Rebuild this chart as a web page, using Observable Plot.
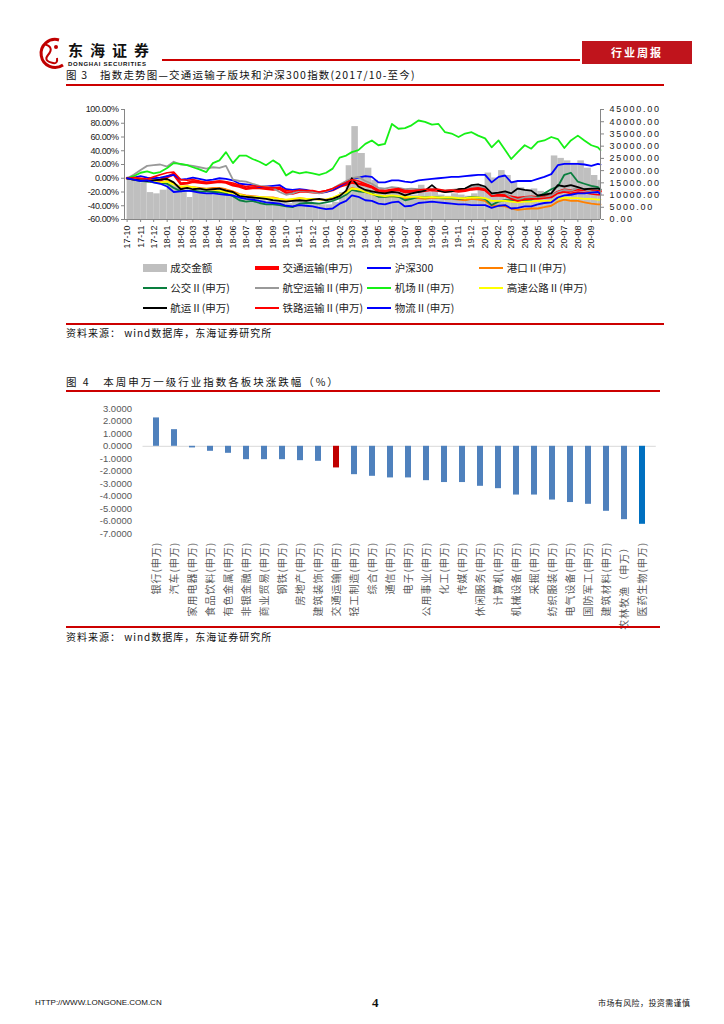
<!DOCTYPE html>
<html><head><meta charset="utf-8">
<script src="https://cdn.jsdelivr.net/npm/d3@7"></script>
<script src="https://cdn.jsdelivr.net/npm/@observablehq/plot@0.6"></script>
<style>
body{margin:0;background:#fff;}
#page{position:relative;width:724px;height:1024px;overflow:hidden;background:#fff;font-family:"Noto Sans CJK SC","Noto Sans",sans-serif;color:#222;}
.abs{position:absolute;white-space:nowrap;line-height:1;}
.redline{position:absolute;background:#cc0000;}
.chart{position:absolute;left:0;}
</style></head>
<body><div id="page">
  <svg class="abs" style="left:34px;top:35px" width="34" height="38" viewBox="0 0 34 38">
    <path d="M25 5 A14 14 0 1 0 29 30" fill="none" stroke="#c00000" stroke-width="3"/>
    <path d="M10 9 Q21 12 14 20 Q9 26 19 28 Q24 29 23 23" fill="none" stroke="#c00000" stroke-width="2"/>
    <circle cx="22" cy="12" r="2" fill="#c00000"/>
  </svg>
  <div class="abs" style="left:68px;top:42px;font-size:15px;font-weight:700;letter-spacing:7px;color:#111">东海证券</div>
  <div class="abs" style="left:68px;top:60.5px;font-family:'Liberation Sans',Arial,sans-serif;font-size:6px;font-weight:700;letter-spacing:0.7px;color:#111">DONGHAI SECURITIES</div>
  <div class="redline" style="left:162px;top:59px;width:418px;height:1.5px"></div>
  <div class="abs" style="left:582px;top:41px;width:110px;height:23px;background:#c0141c"></div>
  <div class="abs" style="left:582px;top:47px;width:110px;text-align:center;font-size:11px;font-weight:700;letter-spacing:2px;color:#fff">行业周报</div>

  <div class="abs" style="left:66px;top:69.5px;font-size:10.5px;letter-spacing:1.2px;color:#111">图 3　指数走势图—交通运输子版块和沪深300指数(2017/10-至今)</div>
  <div class="redline" style="left:66px;top:84px;width:598px;height:2px"></div>
  <div id="c3" class="chart" style="top:100px"></div>
  <div id="legend"></div>
  <div class="redline" style="left:66px;top:322.5px;width:598px;height:2px"></div>
  <div class="abs" style="left:66px;top:328px;font-size:10px;letter-spacing:1px;color:#111">资料来源： wind数据库，东海证券研究所</div>

  <div class="abs" style="left:66px;top:377px;font-size:10.5px;letter-spacing:2px;color:#111">图 4　本周申万一级行业指数各板块涨跌幅（%）</div>
  <div class="redline" style="left:66px;top:390px;width:594px;height:2px"></div>
  <div id="c4" class="chart" style="top:395px"></div>
  <div class="redline" style="left:66px;top:626px;width:594px;height:2px"></div>
  <div class="abs" style="left:66px;top:632px;font-size:10px;letter-spacing:1px;color:#111">资料来源： wind数据库，东海证券研究所</div>

  <div class="abs" style="left:35px;top:999px;font-family:'Liberation Sans',Arial,sans-serif;font-size:8px;color:#111">HTTP://WWW.LONGONE.COM.CN</div>
  <div class="abs" style="left:372px;top:996px;font-family:'Liberation Serif',serif;font-size:13px;font-weight:700;color:#111">4</div>
  <div class="abs" style="left:598px;top:999px;font-size:8px;letter-spacing:0.4px;color:#111">市场有风险，投资需谨慎</div>
</div>
<script>
// ---------- Figure 3 data (semi-monthly readings) ----------
const dates = ["2017-10-01","2017-10-16","2017-11-01","2017-11-16","2017-12-01","2017-12-16",
"2018-01-01","2018-01-16","2018-02-01","2018-02-16","2018-03-01","2018-03-16","2018-04-01","2018-04-16",
"2018-05-01","2018-05-16","2018-06-01","2018-06-16","2018-07-01","2018-07-16","2018-08-01","2018-08-16",
"2018-09-01","2018-09-16","2018-10-01","2018-10-16","2018-11-01","2018-11-16","2018-12-01","2018-12-16",
"2019-01-01","2019-01-16","2019-02-01","2019-02-16","2019-03-01","2019-03-16","2019-04-01","2019-04-16",
"2019-05-01","2019-05-16","2019-06-01","2019-06-16","2019-07-01","2019-07-16","2019-08-01","2019-08-16",
"2019-09-01","2019-09-16","2019-10-01","2019-10-16","2019-11-01","2019-11-16","2019-12-01","2019-12-16",
"2020-01-01","2020-01-16","2020-02-01","2020-02-16","2020-03-01","2020-03-16","2020-04-01","2020-04-16",
"2020-05-01","2020-05-16","2020-06-01","2020-06-16","2020-07-01","2020-07-16","2020-08-01","2020-08-16",
"2020-09-01","2020-09-16","2020-09-22"];
const monthTicks = ["17-10","17-11","17-12","18-01","18-02","18-03","18-04","18-05","18-06","18-07","18-08","18-09",
"18-10","18-11","18-12","19-01","19-02","19-03","19-04","19-05","19-06","19-07","19-08","19-09",
"19-10","19-11","19-12","20-01","20-02","20-03","20-04","20-05","20-06","20-07","20-08","20-09"];

const transport = [0,-1,-2,-3,-4,-3,2,6,-8,-7,-5,-6,-7,-6,-5,-6,-10,-12,-15,-14,-14,-15,-16,-15,-21,-22,-19,-19,-20,-21,-19,-17,-12,-9,-6,-8,-10,-13,-19,-20,-18,-17,-20,-19,-19,-18,-17,-18,-19,-18,-19,-18,-16,-15,-17,-25,-24,-25,-27,-29,-28,-27,-28,-27,-26,-20,-17,-18,-16,-17,-18,-19,-19];
const hs300 = [0,1,3,1,0,1,3,5,-2,-1,1,-1,-3,-2,0,-1,-3,-8,-9,-10,-13,-12,-11,-10,-16,-17,-16,-17,-19,-21,-20,-17,-12,-6,-1,1,3,2,-6,-6,-3,-3,-5,-6,-3,-2,-1,0,1,2,2,3,4,5,5,-6,2,4,-6,-4,-4,-4,-1,2,6,19,21,21,21,20,18,21,20];
const port = [0,-1,-3,-4,-5,-6,-4,-8,-13,-12,-13,-14,-15,-14,-14,-16,-19,-23,-25,-26,-27,-28,-28,-30,-32,-31,-29,-30,-30,-31,-31,-29,-24,-20,-14,-17,-20,-23,-26,-27,-26,-27,-29,-28,-29,-30,-28,-29,-30,-30,-31,-32,-30,-31,-33,-40,-40,-41,-44,-46,-45,-44,-44,-42,-40,-34,-31,-33,-33,-35,-37,-38,-38];
const bus = [0,-2,-4,-5,-6,-7,-8,-14,-19,-18,-18,-19,-19,-20,-20,-22,-26,-32,-34,-33,-36,-38,-38,-39,-41,-42,-37,-36,-36,-37,-35,-33,-29,-24,-17,-19,-20,-22,-27,-27,-26,-27,-32,-30,-27,-28,-27,-28,-29,-29,-30,-29,-27,-28,-30,-39,-34,-32,-32,-33,-32,-31,-27,-22,-16,-12,5,8,-5,-8,-11,-13,-17];
const airline = [0,5,12,18,19,20,17,24,20,19,18,16,14,16,15,18,-2,-4,-5,-8,-11,-12,-14,-20,-24,-22,-18,-19,-20,-22,-19,-15,-9,-4,0,2,-4,-8,-14,-15,-13,-14,-16,-15,-16,-17,-15,-17,-18,-17,-16,-15,-13,-12,-14,-24,-21,-22,-28,-31,-28,-27,-29,-28,-25,-20,-17,-18,-14,-16,-19,-20,-21];
const airport = [0,3,8,10,7,9,15,22,21,19,16,13,9,22,26,38,22,33,33,28,24,19,26,20,4,10,7,9,7,5,8,14,30,33,38,41,50,55,48,50,79,72,73,77,84,82,78,79,67,65,60,65,67,62,58,45,55,41,28,38,48,43,53,55,60,57,44,55,62,55,48,45,41];
const highway = [0,-2,-3,-4,-5,-6,-5,-9,-12,-12,-13,-15,-16,-17,-18,-20,-22,-24,-26,-27,-27,-28,-29,-30,-31,-30,-29,-30,-30,-31,-31,-28,-24,-21,-15,-16,-20,-23,-25,-26,-25,-26,-27,-27,-27,-28,-27,-28,-28,-28,-29,-29,-28,-28,-29,-33,-33,-33,-34,-35,-34,-34,-33,-33,-33,-30,-28,-29,-29,-30,-30,-31,-31];
const shipping = [0,-2,-3,-4,-3,-2,-1,-6,-16,-14,-16,-15,-17,-16,-15,-18,-20,-26,-27,-28,-29,-30,-32,-33,-34,-33,-32,-33,-31,-30,-32,-30,-26,-18,0,-12,-17,-19,-21,-22,-20,-21,-25,-22,-20,-18,-10,-18,-20,-19,-16,-15,-10,-9,-12,-22,-21,-19,-22,-15,-17,-18,-25,-24,-22,-10,-12,-10,-13,-16,-15,-15,-16];
const railway = [0,1,0,-1,2,5,8,9,-2,-3,-2,-4,-6,-5,-4,-5,-7,-10,-12,-11,-12,-13,-14,-13,-18,-19,-17,-18,-18,-20,-18,-15,-10,-6,-2,-4,-8,-12,-17,-18,-16,-15,-18,-18,-17,-16,-16,-16,-18,-17,-18,-17,-15,-14,-16,-26,-25,-26,-30,-33,-31,-30,-30,-29,-28,-22,-20,-22,-20,-21,-23,-24,-24];
const logistics = [0,-2,-4,-3,-6,-8,-12,-20,-19,-18,-19,-21,-22,-22,-23,-24,-25,-28,-30,-31,-33,-35,-36,-37,-40,-41,-39,-40,-41,-43,-45,-44,-37,-33,-25,-27,-32,-33,-37,-38,-35,-34,-41,-40,-36,-35,-34,-35,-36,-37,-38,-38,-39,-39,-39,-43,-40,-39,-44,-43,-41,-41,-38,-36,-35,-28,-25,-24,-22,-22,-21,-20,-23];
// turnover (成交金额) for each period between consecutive dates, right axis units
const turnover = [16000,17000,15000,11000,10500,12000,
15500,14000,11000,9000,11500,11000,10500,10000,11000,10000,9500,9000,
8500,9000,8000,7500,7000,7500,6500,7500,7500,8000,6500,6000,
6000,7000,11000,22000,38000,27000,21000,16000,12500,11500,10500,11000,
10500,10000,14000,11000,11500,10000,9500,10500,10000,9500,10500,12500,
19000,17000,20000,18000,15000,13000,12000,12500,11500,11000,26000,25000,
24000,23000,24000,21000,18000,16000];
const leftTicks = [100,80,60,40,20,0,-20,-40,-60];
const rightTicks = [45000,40000,35000,30000,25000,20000,15000,10000,5000,0];

const seriesList = [
  {name:"交通运输(申万)", values:transport, color:"#ff0000", width:2.8},
  {name:"沪深300", values:hs300, color:"#0000ff", width:1.8},
  {name:"港口Ⅱ(申万)", values:port, color:"#ff8000", width:1.8},
  {name:"公交Ⅱ(申万)", values:bus, color:"#0a7f3f", width:1.8},
  {name:"航空运输Ⅱ(申万)", values:airline, color:"#999999", width:1.8},
  {name:"机场Ⅱ(申万)", values:airport, color:"#16f016", width:1.8},
  {name:"高速公路Ⅱ(申万)", values:highway, color:"#ffff00", width:1.8},
  {name:"航运Ⅱ(申万)", values:shipping, color:"#000000", width:1.8},
  {name:"铁路运输Ⅱ(申万)", values:railway, color:"#ff0000", width:1.6},
  {name:"物流Ⅱ(申万)", values:logistics, color:"#0000ff", width:1.8}
];
const volumeName = "成交金额";
const volumeColor = "#bfbfbf";

// ---------- Figure 4 data ----------
const industries = ["银行(申万)","汽车(申万)","家用电器(申万)","食品饮料(申万)","有色金属(申万)","非银金融(申万)","商业贸易(申万)","钢铁(申万)","房地产(申万)","建筑装饰(申万)","交通运输(申万)","轻工制造(申万)","综合(申万)","通信(申万)","电子(申万)","公用事业(申万)","化工(申万)","传媒(申万)","休闲服务(申万)","计算机(申万)","机械设备(申万)","采掘(申万)","纺织服装(申万)","电气设备(申万)","国防军工(申万)","建筑材料(申万)","农林牧渔（申万）","医药生物(申万)"];
const changes = [2.27,1.33,-0.13,-0.40,-0.56,-1.07,-1.07,-1.07,-1.15,-1.20,-1.73,-2.27,-2.40,-2.53,-2.53,-2.75,-2.90,-2.90,-3.20,-3.39,-3.90,-3.90,-4.30,-4.50,-4.64,-5.20,-5.87,-6.24];
const yTicks4 = [3,2,1,0,-1,-2,-3,-4,-5,-6,-7];
const barColor = "#4f81bd";
const highlightColors = {"交通运输(申万)":"#c00000","医药生物(申万)":"#0070c0"};

// ---------- Figure 3 ----------
const P = d3.utcParse("%Y-%m-%d");
const X = dates.map(P);
const xDomain = [P("2017-09-25"), P("2020-09-22")];
const yDomain = [-60, 100];
const volDomain = [0, 45000];
const v2y = v => yDomain[0] + (v - volDomain[0]) / (volDomain[1] - volDomain[0]) * (yDomain[1] - yDomain[0]);
const y2v = y => (y - yDomain[0]) / (yDomain[1] - yDomain[0]) * (volDomain[1] - volDomain[0]) + volDomain[0];
const volRows = turnover.map((v, i) => ({a: X[i], b: X[i + 1], v}));
const lineMarks = seriesList.map(s => Plot.line(s.values.map((v, i) => ({d: X[i], v})),
  {x: "d", y: "v", stroke: s.color, strokeWidth: s.width, strokeLinejoin: "round"}));
const axisGray = "#868686";
const chart3 = Plot.plot({
  width: 724, height: 160, marginLeft: 124, marginRight: 124, marginTop: 9, marginBottom: 41,
  x: {type: "utc", domain: xDomain, label: null},
  y: {domain: yDomain, label: null},
  style: {fontFamily: "'Liberation Sans',Arial,sans-serif", fontSize: "9px", color: "#1a1a1a", background: "transparent", overflow: "visible"},
  marks: [
    Plot.rect(volRows, {x1: "a", x2: "b", y1: () => yDomain[0], y2: d => v2y(d.v), fill: volumeColor}),
    ...lineMarks,
    Plot.ruleY([yDomain[0]], {stroke: axisGray}),
    Plot.ruleX([xDomain[0]], {stroke: axisGray}),
    Plot.ruleX([xDomain[1]], {stroke: axisGray}),
    Plot.axisY({anchor: "left", label: null, ticks: leftTicks, tickFormat: d => d.toFixed(2) + "%", tickSize: 3, tickPadding: 3, fontSize: 9, stroke: axisGray}),
    Plot.axisY({anchor: "right", label: null, ticks: rightTicks.map(v2y), tickFormat: d => Math.round(y2v(d)).toFixed(2), tickSize: 3, tickPadding: 6, fontSize: 9, stroke: axisGray}),
    Plot.axisX({label: null, ticks: monthTicks.map(d3.utcParse("%y-%m")), tickFormat: d3.utcFormat("%y-%m"), tickRotate: -90, tickSize: 3, tickPadding: 3, fontSize: 9, stroke: axisGray})
  ]
});
chart3.querySelectorAll('g[aria-label="y-axis tick label"]').forEach(g => {
  const anchor = g.getAttribute("text-anchor");
  g.style.letterSpacing = anchor === "start" ? "1.7px" : "-0.4px";
});
document.getElementById("c3").appendChild(chart3);

// legend
const legendItems = [{name: volumeName, color: volumeColor, kind: "rect"}].concat(
  seriesList.map(s => ({name: s.name, color: s.color, kind: "line", width: s.width > 2.5 ? 4 : 2})));
const legend = document.getElementById("legend");
const colX = [142.7, 255, 367.3, 479.3], rowY = [268.3, 288.3, 308.3];
legendItems.forEach((it, i) => {
  const cx = colX[i % 4], cy = rowY[Math.floor(i / 4)];
  const sw = document.createElement("div");
  sw.className = "abs";
  const h = it.kind === "rect" ? 8 : it.width;
  Object.assign(sw.style, {left: cx + "px", top: (cy - h / 2) + "px", width: "24px", height: h + "px", background: it.color});
  legend.appendChild(sw);
  const tx = document.createElement("div");
  tx.className = "abs";
  Object.assign(tx.style, {left: (cx + 27.5) + "px", top: (cy - 5.5) + "px", fontSize: "10.5px", color: "#222"});
  tx.textContent = it.name;
  legend.appendChild(tx);
});

// ---------- Figure 4 ----------
const rows4 = industries.map((n, i) => ({n, v: changes[i]}));
const chart4 = Plot.plot({
  width: 724, height: 235, marginLeft: 142.5, marginRight: 68.2, marginTop: 13.3, marginBottom: 96.7,
  x: {domain: industries, paddingInner: 0.64, paddingOuter: 0.32, label: null},
  y: {domain: [-7, 3], label: null},
  color: {type: "identity"},
  style: {fontFamily: "'Liberation Sans',Arial,sans-serif", fontSize: "9.5px", color: "#595959", background: "transparent", overflow: "visible"},
  marks: [
    Plot.ruleY([0], {stroke: "#d9d9d9"}),
    Plot.barY(rows4, {x: "n", y: "v", fill: d => highlightColors[d.n] || barColor}),
    Plot.axisY({label: null, ticks: yTicks4, tickFormat: d => d.toFixed(4), tickSize: 0, tickPadding: 11, fontSize: 9.5}),
    Plot.axisX({label: null, tickRotate: -90, tickSize: 0, tickPadding: 8, fontSize: 10, fontFamily: "'Noto Sans CJK SC',sans-serif"})
  ]
});
chart4.querySelectorAll('g[aria-label="x-axis tick label"]').forEach(g => { g.style.letterSpacing = "1px"; });
document.getElementById("c4").appendChild(chart4);
</script>
</body></html>
